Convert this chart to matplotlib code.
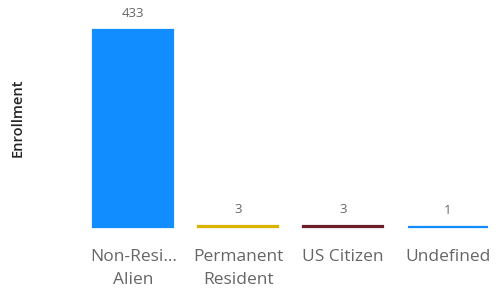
import matplotlib
matplotlib.use("Agg")
import matplotlib.pyplot as plt

categories = ["Non-Resi...\nAlien", "Permanent\nResident", "US Citizen", "Undefined"]
values = [433, 3, 3, 1]
colors = ["#118DFF", "#D9B300", "#6B1D2A", "#118DFF"]

fig = plt.figure(figsize=(5.0, 2.94), dpi=100)
ax = fig.add_axes([0.162, 1 - 227 / 294, 0.838, (227 - 20) / 294])
x = range(len(categories))
bars = ax.bar(x, values, width=80 / 105, color=colors, edgecolor=colors, linewidth=1.6,
              clip_on=False)
ax.set_xlim(-0.5, len(categories) - 0.5)
ax.set_ylim(0, 433 * 207 / 197)
for b, v in zip(bars, values):
    ax.annotate(str(v), (b.get_x() + b.get_width() / 2, b.get_height()),
                xytext=(0, 7), textcoords="offset points", ha="center", va="bottom",
                fontsize=9.5, color="#666666", family="Open Sans")
ax.set_xticks(list(x))
ax.set_xticklabels(categories, fontsize=12.5, color="#666666", family="Open Sans", linespacing=1.55)
ax.tick_params(axis="x", length=0, pad=16)
ax.set_yticks([])
for s in ax.spines.values():
    s.set_visible(False)
fig.text(0.036, 1 - 118 / 294, "Enrollment", rotation=90, ha="center", va="center",
         fontsize=10.5, color="#252423", family="Open Sans", fontweight="semibold")
fig.savefig("out.png", dpi=100)
